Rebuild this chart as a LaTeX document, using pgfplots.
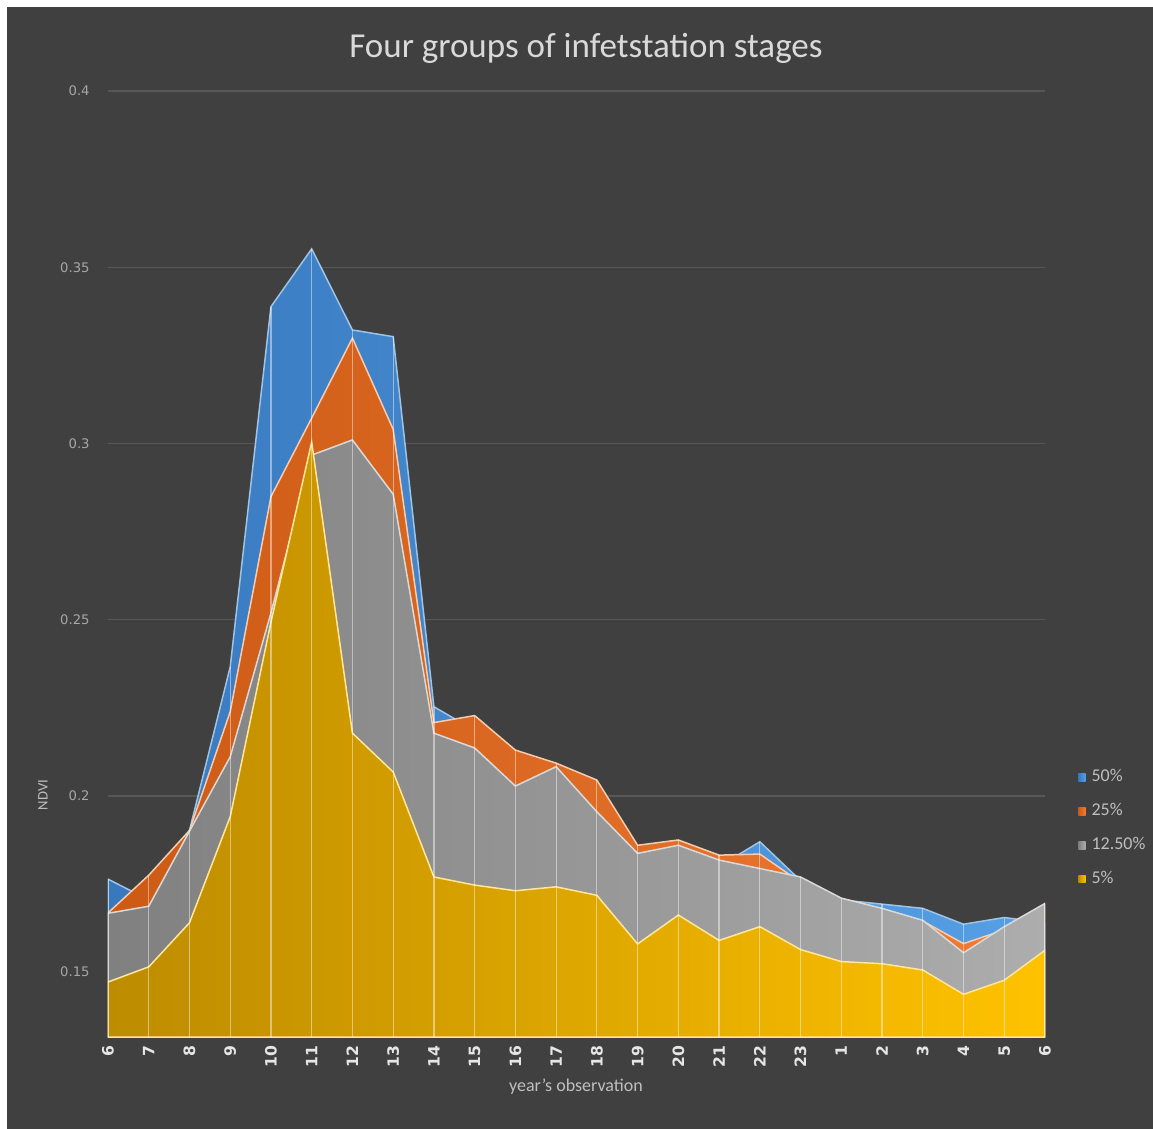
\documentclass[border=0pt]{standalone}
\usepackage{fontspec}
\setmainfont{Carlito}
\newfontfamily\tickfont{DejaVu Sans}
\usepackage{pgfplots}
\usepackage{pgfplotstable}
\pgfplotsset{compat=1.18}

\definecolor{bg}{HTML}{404040}
\definecolor{gridc}{HTML}{575757}
\definecolor{titlec}{HTML}{D9D9D9}
\definecolor{labc}{HTML}{BFBFBF}
\definecolor{tickc}{HTML}{A6A6A6}
\definecolor{xtickc}{HTML}{E6E6E6}
\definecolor{blueL}{HTML}{3878BE}
\definecolor{blueR}{HTML}{56A0E6}
\definecolor{blueO}{HTML}{9DC3E6}
\definecolor{oraL}{HTML}{CC5A14}
\definecolor{oraR}{HTML}{F07C35}
\definecolor{oraO}{HTML}{F8CBAD}
\definecolor{greyL}{HTML}{808080}
\definecolor{greyR}{HTML}{ADADAD}
\definecolor{greyO}{HTML}{D9D9D9}
\definecolor{yelL}{HTML}{BD8C00}
\definecolor{yelR}{HTML}{FFC200}
\definecolor{yelO}{HTML}{FFE699}

% NDVI per observation: b = 50%, o = 25%, g = 12.50%, y = 5%
\pgfplotstableread{
i b o g y
0  0.1764 0.1668 0.1667 0.1472
1  0.1705 0.1775 0.1687 0.1515
2  0.1902 0.1902 0.1900 0.1640
3  0.2366 0.2239 0.2111 0.1941
4  0.3388 0.2849 0.2519 0.2493
5  0.3552 0.3072 0.2967 0.3004
6  0.3322 0.3299 0.3010 0.2178
7  0.3303 0.3040 0.2856 0.2068
8  0.2253 0.2208 0.2178 0.1770
9  0.2186 0.2228 0.2136 0.1747
10 0.2110 0.2130 0.2028 0.1731
11 0.2080 0.2093 0.2083 0.1742
12 0.2000 0.2045 0.1955 0.1718
13 0.1850 0.1860 0.1837 0.1580
14 0.1860 0.1875 0.1860 0.1662
15 0.1800 0.1832 0.1818 0.1590
16 0.1870 0.1835 0.1794 0.1629
17 0.1760 0.1755 0.1770 0.1564
18 0.1705 0.1700 0.1710 0.1530
19 0.1693 0.1675 0.1681 0.1524
20 0.1681 0.1645 0.1647 0.1506
21 0.1636 0.1581 0.1555 0.1437
22 0.1655 0.1620 0.1629 0.1477
23 0.1640 0.1690 0.1695 0.1562
}\ndvi

\begin{document}
\begin{tikzpicture}
\useasboundingbox (0,0) rectangle (576.5pt,-564.5pt);
\fill[white] (0,0) rectangle (576.5pt,-564.5pt);
\fill[bg] (3.5pt,-3.5pt) rectangle (576.5pt,-564.5pt);
\node[anchor=base, text=titlec, font=\fontsize{17.5}{20}\selectfont, inner sep=0pt]
  at (293pt,-29pt) {Four groups of infetstation stages};
\begin{axis}[
  at={(54pt,-518.5pt)}, anchor=south west,
  scale only axis, width=468.5pt, height=473pt,
  xmin=0, xmax=23, ymin=0.1316, ymax=0.4,
  axis line style={draw=none}, tick style={draw=none},
  ymajorgrids, grid style={color=gridc, line width=0.6pt},
  ytick={0.15,0.2,0.25,0.3,0.35,0.4},
  yticklabel={\pgfmathprintnumber[fixed,precision=2]{\tick}},
  /pgf/number format/assume math mode=true,
  yticklabel style={anchor=east, inner sep=0pt, xshift=-9pt, text=tickc,
    font=\tickfont\fontsize{6.6}{8}\selectfont},
  xtick={0,...,23},
  xticklabels={6,7,8,9,10,11,12,13,14,15,16,17,18,19,20,21,22,23,1,2,3,4,5,6},
  xticklabel style={yshift=-4pt, rotate=90, anchor=east, inner sep=0pt,
    text=xtickc, font=\tickfont\bfseries\fontsize{7.8}{9}\selectfont},
  xlabel={year's observation},
  xlabel style={at={(axis description cs:0.4995,-0.058)}, anchor=base,
    text=labc, font=\fontsize{9}{10}\selectfont, inner sep=0pt},
  ylabel={NDVI},
  ylabel style={at={(axis description cs:-0.0694,0.2558)}, anchor=center,
    text=labc, font=\fontsize{7.3}{8}\selectfont, inner sep=0pt},
  legend style={at={(axis description cs:1.0288,0.2870)}, anchor=north west,
    draw=none, fill=none, text=labc, font=\fontsize{9}{10}\selectfont,
    nodes={inner sep=0pt, text height=6pt, text depth=1.5pt},
    row sep=9.5pt,
    /tikz/every odd column/.append style={column sep=3pt}},
  legend cell align=left,
  legend image code/.code={\path[#1,draw=none] (0pt,-1.8pt) rectangle (3.6pt,1.8pt);},
]
\addplot[draw=blueO, line width=0.75pt, left color=blueL, right color=blueR]
  table[x=i, y=b] {\ndvi} \closedcycle;
\addlegendentry{50\%}
\addplot[draw=oraO, line width=0.75pt, left color=oraL, right color=oraR]
  table[x=i, y=o] {\ndvi} \closedcycle;
\addlegendentry{25\%}
\addplot[draw=greyO, line width=0.75pt, left color=greyL, right color=greyR]
  table[x=i, y=g] {\ndvi} \closedcycle;
\addlegendentry{12.50\%}
\addplot[draw=yelO, line width=0.75pt, left color=yelL, right color=yelR]
  table[x=i, y=y] {\ndvi} \closedcycle;
\addlegendentry{5\%}
% separators at every observation, up to the highest of the four groups
\addplot[ycomb, draw=white, draw opacity=0.45, line width=0.6pt, forget plot]
  table[x=i, y expr={max(\thisrow{b},\thisrow{o},\thisrow{g},\thisrow{y})}] {\ndvi};
\end{axis}
\end{tikzpicture}
\end{document}
